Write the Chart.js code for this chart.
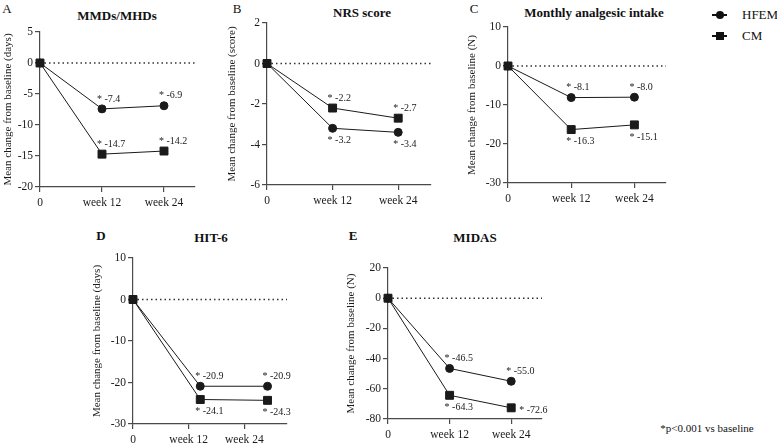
<!DOCTYPE html>
<html lang="en">
<head>
    <meta charset="UTF-8">
    <title>HFEM vs CM - change from baseline</title>
    <script src="https://cdn.jsdelivr.net/npm/chart.js"></script>
    <style>
        body {
            margin: 0;
            background: white;
            font-family: 'Liberation Serif', 'Times New Roman', serif;
            color: #111;
        }
        .page {
            position: relative;
            width: 777px;
            height: 445px;
            overflow: hidden;
        }
        .page canvas {
            position: absolute;
        }
        .txt {
            position: absolute;
            transform: translate(-50%, -50%);
            white-space: nowrap;
        }
        .letter { font-size: 13px; }
        .title { font-size: 13px; font-weight: bold; }
        .legend-row {
            position: absolute;
            left: 712px;
            height: 14px;
            width: 70px;
            font-size: 13px;
        }
        .legend-row .line {
            position: absolute;
            left: 0;
            top: 6px;
            width: 15px;
            height: 1.5px;
            background: #111;
        }
        .legend-row .mark {
            position: absolute;
            background: #111;
        }
        .legend-row .lbl {
            position: absolute;
            left: 30px;
            top: -1px;
        }
        .note { font-size: 11px; }
    </style>
</head>
<body>
<div class="page">
    <div class="txt letter" style="left:7px;top:9px">A</div>
    <div class="txt letter" style="left:237px;top:9px">B</div>
    <div class="txt letter" style="left:474px;top:9px">C</div>
    <div class="txt letter" style="left:101px;top:236px;font-weight:bold">D</div>
    <div class="txt letter" style="left:353px;top:236px;font-weight:bold">E</div>

    <div class="txt title" style="left:117px;top:16px">MMDs/MHDs</div>
    <div class="txt title" style="left:362px;top:13px">NRS score</div>
    <div class="txt title" style="left:594px;top:13px">Monthly analgesic intake</div>
    <div class="txt title" style="left:211px;top:238px">HIT-6</div>
    <div class="txt title" style="left:475px;top:238px">MIDAS</div>

    <div class="legend-row" style="top:8px">
        <span class="line"></span>
        <span class="mark" style="left:4px;top:3px;width:8px;height:8px;border-radius:50%"></span>
        <span class="lbl">HFEM</span>
    </div>
    <div class="legend-row" style="top:29px">
        <span class="line"></span>
        <span class="mark" style="left:4px;top:3px;width:8px;height:8px"></span>
        <span class="lbl">CM</span>
    </div>

    <div class="txt note" style="left:707px;top:428px">*p&lt;0.001 vs baseline</div>

    <canvas id="chartA"></canvas>
    <canvas id="chartB"></canvas>
    <canvas id="chartC"></canvas>
    <canvas id="chartD"></canvas>
    <canvas id="chartE"></canvas>
</div>
<script>
    // time points (weeks) and their tick labels
    const weekTicks = [0, 12, 24];
    const weekLabels = ['0', 'week 12', 'week 24'];
    const weekX = [0, 12, 24];
    // in the HIT-6 panel the points sit to the right of the ticks
    const hitWeekX = [0, 14.5, 29];

    // mean change from baseline
    const mmdHfem = [0, -7.4, -6.9];
    const mmdCm = [0, -14.7, -14.2];
    const nrsHfem = [0, -3.2, -3.4];
    const nrsCm = [0, -2.2, -2.7];
    const analgHfem = [0, -8.1, -8.0];
    const analgCm = [0, -16.3, -15.1];
    const hitHfem = [0, -20.9, -20.9];
    const hitCm = [0, -24.1, -24.3];
    const midasHfem = [0, -46.5, -55.0];
    const midasCm = [0, -64.3, -72.6];

    const FONT = '"Liberation Serif", "Times New Roman", serif';
    const INK = '#1a1a1a';
    const AXIS = '#4a4a4a';

    const panels = [
        { id: 'chartA', x: weekX, hfem: mmdHfem, cm: mmdCm, xMax: 30,
          yMin: -20, yMax: 5, yStep: 5, yTitle: 'Mean change from baseline (days)',
          hfemPos: ['above', 'above'], cmPos: ['above', 'above'],
          box: { l: 40, t: 32, r: 195, b: 187, yw: 40 } },
        { id: 'chartB', x: weekX, hfem: nrsHfem, cm: nrsCm, xMax: 30,
          yMin: -6, yMax: 2, yStep: 2, yTitle: 'Mean change from baseline (score)',
          hfemPos: ['below', 'below'], cmPos: ['above', 'above'],
          box: { l: 267, t: 23, r: 431, b: 185, yw: 43 } },
        { id: 'chartC', x: weekX, hfem: analgHfem, cm: analgCm, xMax: 30,
          yMin: -30, yMax: 10, yStep: 10, yTitle: 'Mean change from baseline (N)',
          hfemPos: ['above', 'above'], cmPos: ['below', 'below'],
          box: { l: 508, t: 27, r: 666, b: 183, yw: 44 } },
        { id: 'chartD', x: hitWeekX, hfem: hitHfem, cm: hitCm, xMax: 33.2,
          yMin: -30, yMax: 10, yStep: 10, yTitle: 'Mean change from baseline (days)',
          hfemPos: ['above', 'above'], cmPos: ['below', 'below'],
          box: { l: 133, t: 258, r: 287, b: 424, yw: 44 } },
        { id: 'chartE', x: weekX, hfem: midasHfem, cm: midasCm, xMax: 30,
          yMin: -80, yMax: 20, yStep: 20, yTitle: 'Mean change from baseline (N)',
          hfemPos: ['above', 'above'], cmPos: ['below', 'right'],
          box: { l: 388, t: 268, r: 542, b: 419, yw: 45 } }
    ];

    const PAD = 12;
    const XH = 30;

    Chart.defaults.font.family = FONT;

    // dotted reference line at zero
    const zeroLine = {
        id: 'zeroLine',
        beforeDatasetsDraw(chart) {
            const { ctx, chartArea, scales } = chart;
            const y = scales.y.getPixelForValue(0);
            ctx.save();
            ctx.strokeStyle = '#333';
            ctx.lineWidth = 1.5;
            ctx.setLineDash([1.5, 3]);
            ctx.beginPath();
            ctx.moveTo(chartArea.left, y);
            ctx.lineTo(chartArea.right, y);
            ctx.stroke();
            ctx.restore();
        }
    };

    // "* value" annotations next to the week 12 / week 24 points
    const pointLabels = {
        id: 'pointLabels',
        afterDatasetsDraw(chart, args, opts) {
            const ctx = chart.ctx;
            ctx.save();
            ctx.font = '10px ' + FONT;
            ctx.fillStyle = INK;
            ctx.textAlign = 'left';
            ctx.textBaseline = 'middle';
            chart.data.datasets.forEach((ds, i) => {
                const meta = chart.getDatasetMeta(i);
                const where = opts.pos[i];
                meta.data.forEach((pt, j) => {
                    if (j === 0) return;
                    const val = ds.data[j].y;
                    let dx = -5, dy = -10;
                    if (where[j - 1] === 'below') { dy = 12; }
                    if (where[j - 1] === 'right') { dx = 8; dy = 3; }
                    ctx.fillText('* ' + val.toFixed(1), pt.x + dx, pt.y + dy);
                });
            });
            ctx.restore();
        }
    };

    function makeChart(p) {
        const b = p.box;
        const canvas = document.getElementById(p.id);
        const w = (b.r - b.l) + b.yw + PAD;
        const h = (b.b - b.t) + PAD + XH;
        canvas.width = w;
        canvas.height = h;
        canvas.style.width = w + 'px';
        canvas.style.height = h + 'px';
        canvas.style.left = (b.l - b.yw) + 'px';
        canvas.style.top = (b.t - PAD) + 'px';

        const series = (vals) => p.x.map((x, i) => ({ x: x, y: vals[i] }));
        const common = {
            borderColor: INK,
            backgroundColor: INK,
            pointBackgroundColor: INK,
            pointBorderColor: INK,
            borderWidth: 1,
            pointBorderWidth: 1,
            tension: 0,
            clip: false
        };

        return new Chart(canvas, {
            type: 'line',
            data: {
                datasets: [
                    Object.assign({ label: 'HFEM', data: series(p.hfem), pointStyle: 'circle', pointRadius: 4 }, common),
                    Object.assign({ label: 'CM', data: series(p.cm), pointStyle: 'rect', pointRadius: 5.6 }, common)
                ]
            },
            options: {
                responsive: false,
                animation: false,
                devicePixelRatio: 1,
                layout: { padding: { top: PAD, right: PAD, left: 0, bottom: 0 } },
                plugins: {
                    legend: { display: false },
                    tooltip: { enabled: false },
                    pointLabels: { pos: [p.hfemPos, p.cmPos] }
                },
                scales: {
                    x: {
                        type: 'linear',
                        min: 0,
                        max: p.xMax,
                        afterBuildTicks: s => { s.ticks = weekTicks.map(v => ({ value: v })); },
                        afterFit: s => { s.height = XH; },
                        ticks: {
                            autoSkip: false,
                            maxRotation: 0,
                            padding: 4,
                            color: INK,
                            font: { family: FONT, size: 11.5 },
                            callback: v => weekLabels[weekTicks.indexOf(v)]
                        },
                        grid: { drawOnChartArea: false, drawTicks: true, tickLength: 5, color: AXIS, lineWidth: 1.2 },
                        border: { color: AXIS, width: 1.2 }
                    },
                    y: {
                        min: p.yMin,
                        max: p.yMax,
                        afterFit: s => { s.width = b.yw; },
                        ticks: {
                            stepSize: p.yStep,
                            padding: 2,
                            color: INK,
                            font: { family: FONT, size: 11.5 }
                        },
                        grid: { drawOnChartArea: false, drawTicks: true, tickLength: 5, color: AXIS, lineWidth: 1.2 },
                        border: { color: AXIS, width: 1.2 },
                        title: {
                            display: true,
                            text: p.yTitle,
                            color: INK,
                            padding: { top: 2, bottom: 0 },
                            font: { family: FONT, size: 11 }
                        }
                    }
                }
            },
            plugins: [zeroLine, pointLabels]
        });
    }

    // make sure the serif face is ready before the canvases draw text
    Promise.all([
        document.fonts.load('11px "Liberation Serif"'),
        document.fonts.load('bold 13px "Liberation Serif"')
    ]).catch(() => null).then(() => panels.forEach(makeChart));
</script>
</body>
</html>
